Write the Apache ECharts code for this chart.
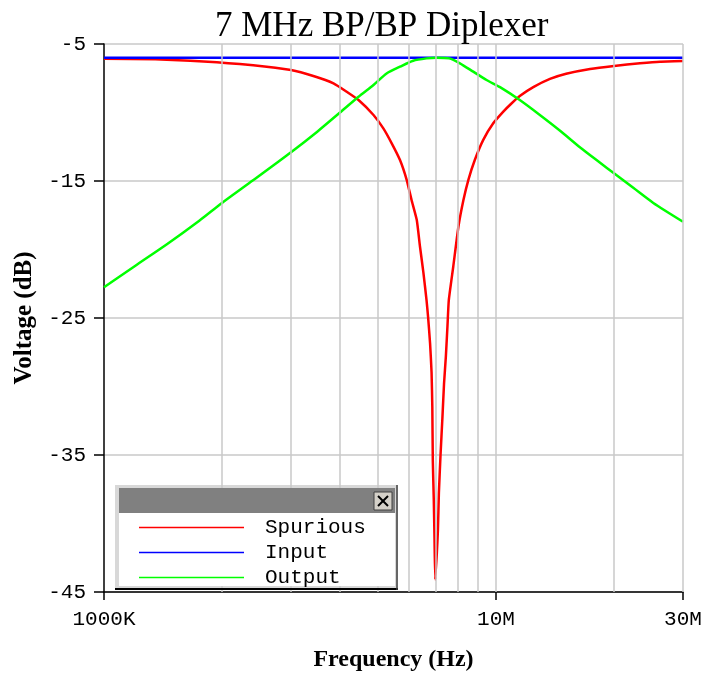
<!DOCTYPE html>
<html>
<head>
<meta charset="utf-8">
<script src="https://cdn.jsdelivr.net/npm/echarts@6/dist/echarts.min.js"></script>
<style>
  html, body { margin: 0; padding: 0; background: #fff; }
  #chart { width: 704px; height: 673px; }
</style>
</head>
<body>
<div id="chart"></div>
<script>
// frequencies in MHz, levels in dB
const freqSpurious = [1.0, 1.35, 1.66, 1.94, 2.22, 2.6, 3.0, 3.42, 3.85, 4.16, 4.46, 4.87, 5.16, 5.42, 5.69, 5.92, 6.09, 6.28, 6.40, 6.53, 6.65, 6.71, 6.79, 6.85, 6.88, 6.90, 6.94, 6.97, 7.0, 7.11, 7.15, 7.22, 7.30, 7.37, 7.45, 7.52, 7.58, 7.78, 8.02, 8.26, 8.5, 8.83, 9.28, 9.84, 10.44, 10.9, 11.5, 12.45, 13.73, 15.1, 17.38, 20, 23.3, 26.2, 30];
const dbSpurious = [-6.08, -6.12, -6.22, -6.34, -6.46, -6.66, -6.9, -7.34, -7.87, -8.48, -9.09, -10.18, -11.16, -12.25, -13.47, -14.93, -16.39, -17.85, -19.8, -21.7, -23.7, -24.9, -26.85, -29.0, -31.5, -35.4, -38.3, -41.2, -44.1, -40.5, -37.8, -35.0, -32.3, -29.8, -27.8, -25.6, -23.7, -21.26, -18.34, -16.39, -14.93, -13.47, -12.0, -10.79, -9.94, -9.4, -8.8, -8.15, -7.55, -7.17, -6.82, -6.6, -6.41, -6.29, -6.24];

const freqInput = [1, 30];
const dbInput = [-6.0, -6.0];

const freqOutput = [1.0, 1.2, 1.45, 1.75, 2.0, 2.4, 3.0, 3.5, 4.0, 4.46, 4.87, 5.27, 5.69, 6.15, 6.65, 7.05, 7.6, 8.09, 8.75, 9.46, 10.24, 11.5, 12.94, 14.6, 16.4, 18.4, 20, 22.4, 25.2, 30];
const dbOutput = [-22.76, -21.2, -19.6, -17.9, -16.6, -14.95, -12.9, -11.4, -10.0, -8.85, -7.99, -7.14, -6.66, -6.22, -6.05, -6.0, -6.05, -6.41, -7.02, -7.63, -8.15, -9.09, -10.18, -11.35, -12.55, -13.65, -14.44, -15.5, -16.6, -17.97];

const xTickFreqs = [1, 10, 30];           // labelled frequencies (MHz)
const xGridFreqs = [2, 3, 4, 5, 6, 7, 8, 9, 10, 20, 30];
const yTickValues = [-45, -35, -25, -15, -5];

const toPairs = (f, v) => f.map((x, i) => [x * 1e6, v[i]]);

const chart = echarts.init(document.getElementById('chart'));

const gridColor = '#c8c8c8';
const monoFont = 'Liberation Mono';

chart.setOption({
  animation: false,
  backgroundColor: '#ffffff',
  title: {
    text: '7 MHz BP/BP Diplexer',
    left: 215,
    top: 9,
    padding: 0,
    textStyle: { fontFamily: 'Liberation Serif', fontWeight: 'normal', fontSize: 35, color: '#000' }
  },
  grid: { left: 104, right: 21, top: 44, bottom: 81, outerBoundsMode: 'none', containLabel: false },
  legend: {
    orient: 'vertical',
    left: 139,
    top: 517,
    padding: 0,
    itemGap: 4,
    itemWidth: 105,
    itemHeight: 1.5,
    icon: 'rect',
    selectedMode: false,
    z: 10,
    data: ['Spurious', 'Input', 'Output'],
    textStyle: { fontFamily: monoFont, fontSize: 21, lineHeight: 20, color: '#000', padding: [0, 0, 0, 16] }
  },
  xAxis: {
    type: 'log',
    logBase: 10,
    min: 1e6,
    max: 3e7,
    name: 'Frequency (Hz)',
    nameLocation: 'middle',
    nameGap: 56,
    nameTextStyle: { fontFamily: 'Liberation Serif', fontWeight: 'bold', fontSize: 24, color: '#000' },
    axisLine: { lineStyle: { color: '#000', width: 1.5 } },
    axisTick: { show: true, length: 8, inside: false, lineStyle: { color: '#000', width: 1.5 }, customValues: xTickFreqs.map(f => f * 1e6) },
    axisLabel: {
      customValues: xTickFreqs.map(f => f * 1e6),
      margin: 17,
      fontFamily: monoFont,
      fontSize: 21,
      color: '#000',
      formatter: v => v >= 1e7 ? Math.round(v / 1e6) + 'M' : Math.round(v / 1e3) + 'K'
    },
    splitLine: { show: false }
  },
  yAxis: {
    type: 'value',
    min: -45,
    max: -5,
    interval: 5,
    name: 'Voltage (dB)',
    nameLocation: 'middle',
    nameGap: 59,
    nameTextStyle: { fontFamily: 'Liberation Serif', fontWeight: 'bold', fontSize: 25, color: '#000' },
    axisLine: { show: true, lineStyle: { color: '#000', width: 1.5 } },
    axisTick: { show: true, length: 10, lineStyle: { color: '#000', width: 1.5 }, customValues: yTickValues },
    axisLabel: { customValues: yTickValues, margin: 18, fontFamily: monoFont, fontSize: 21, color: '#000' },
    splitLine: { show: true, lineStyle: { color: gridColor, width: 1.5 } }
  },
  graphic: [
    { type: 'rect', z: 5, shape: { x: 115, y: 485, width: 283, height: 105 }, style: { fill: '#d8d8d8' } },
    { type: 'line', z: 6, shape: { x1: 115, y1: 589, x2: 398, y2: 589 }, style: { stroke: '#000', lineWidth: 2 } },
    { type: 'line', z: 6, shape: { x1: 397, y1: 485, x2: 397, y2: 590 }, style: { stroke: '#404040', lineWidth: 1.5 } },
    { type: 'rect', z: 6, shape: { x: 119, y: 488, width: 276, height: 25 }, style: { fill: '#808080' } },
    { type: 'rect', z: 6, shape: { x: 119, y: 513, width: 276, height: 73 }, style: { fill: '#ffffff' } },
    { type: 'rect', z: 7, shape: { x: 374, y: 492, width: 18, height: 18 }, style: { fill: '#d4d0c8', stroke: '#404040', lineWidth: 1 } },
    { type: 'line', z: 8, shape: { x1: 378, y1: 496, x2: 388, y2: 506 }, style: { stroke: '#000', lineWidth: 2 } },
    { type: 'line', z: 8, shape: { x1: 388, y1: 496, x2: 378, y2: 506 }, style: { stroke: '#000', lineWidth: 2 } }
  ],
  series: [
    {
      name: 'grid',
      type: 'line',
      data: [],
      z: 1,
      silent: true,
      markLine: {
        silent: true,
        symbol: 'none',
        label: { show: false },
        lineStyle: { color: gridColor, width: 1.5, type: 'solid' },
        data: xGridFreqs.map(f => ({ xAxis: f * 1e6 }))
      }
    },
    {
      name: 'Spurious', type: 'line', showSymbol: false, symbol: 'none', z: 3,
      smooth: 0.15,
      color: '#ff0000', lineStyle: { color: '#ff0000', width: 2.5 },
      data: toPairs(freqSpurious, dbSpurious)
    },
    {
      name: 'Input', type: 'line', showSymbol: false, symbol: 'none', z: 3,
      color: '#0000ff', lineStyle: { color: '#0000ff', width: 2.5 },
      data: toPairs(freqInput, dbInput)
    },
    {
      name: 'Output', type: 'line', showSymbol: false, symbol: 'none', z: 3,
      smooth: 0.25,
      color: '#00ff00', lineStyle: { color: '#00ff00', width: 2.5 },
      data: toPairs(freqOutput, dbOutput)
    }
  ]
});
</script>
</body>
</html>
